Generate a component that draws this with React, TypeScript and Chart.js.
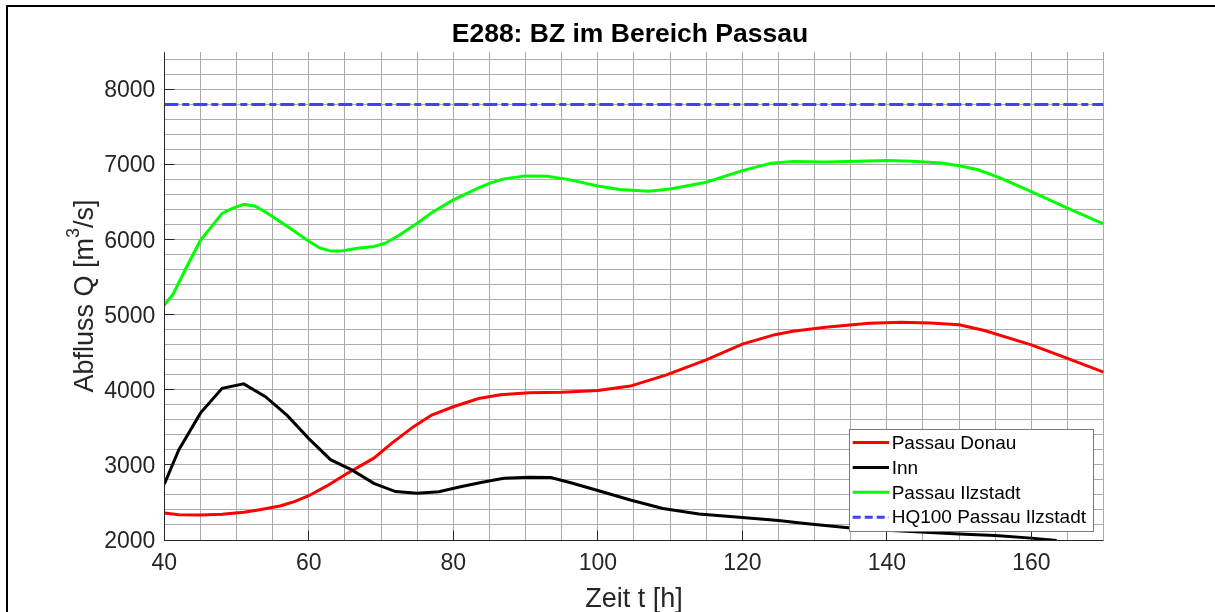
import React, { useEffect, useRef } from 'react';
import { Chart, registerables } from 'chart.js';

Chart.register(...registerables);

// ---------- data ----------
const titleText = 'E288: BZ im Bereich Passau';
const xAxisLabel = 'Zeit t [h]';
const yAxisLabelParts = ['Abfluss Q [m', '3', '/s]'];
const xTickLabels = [40, 60, 80, 100, 120, 140, 160];
const yTickLabels = [2000, 3000, 4000, 5000, 6000, 7000, 8000];
const seriesNames = ['Passau Donau', 'Inn', 'Passau Ilzstadt', 'HQ100 Passau Ilzstadt'];

const donauT = [40, 42, 45, 48, 51, 53, 56, 58, 60, 62.5, 65, 69, 71.5, 74.5, 77, 80, 83.5, 86.5, 90.5, 95, 100, 104.5, 109.5, 115, 120, 124.5, 127, 131.5, 137.5, 142, 146, 150, 153.5, 160, 165, 170];
const donauQ = [2360, 2335, 2333, 2342, 2369, 2400, 2453, 2511, 2590, 2720, 2870, 3090, 3290, 3510, 3665, 3775, 3885, 3935, 3962, 3969, 3990, 4050, 4200, 4400, 4610, 4735, 4780, 4835, 4888, 4900, 4889, 4867, 4790, 4600, 4420, 4236];

const innT = [40, 42, 45, 48, 51, 54, 57, 60, 63, 66, 69, 72, 75, 78, 81, 84, 87, 90.5, 93.5, 96.5, 100, 104.5, 109, 114, 120, 125, 129, 135, 140, 150, 155, 160, 163.5];
const innQ = [2745, 3200, 3690, 4020, 4080, 3910, 3660, 3350, 3070, 2930, 2755, 2645, 2622, 2644, 2710, 2770, 2822, 2836, 2831, 2756, 2660, 2533, 2420, 2345, 2300, 2260, 2215, 2160, 2130, 2080, 2060, 2025, 1995];

const ilzT = [40, 41.2, 43, 45, 46.5, 48, 49.5, 51, 52.5, 54, 57, 60, 61.5, 63, 64.5, 67, 69, 70.5, 72.5, 75, 77, 80, 83.5, 85, 87, 90, 93, 96, 100, 103, 107, 110, 115, 120, 124, 127, 131.5, 136, 140, 143.5, 147.5, 150, 152.5, 155.5, 160, 165, 170];
const ilzQ = [5130, 5270, 5620, 5990, 6170, 6350, 6420, 6470, 6450, 6370, 6180, 5980, 5890, 5850, 5850, 5890, 5910, 5950, 6060, 6220, 6360, 6530, 6690, 6750, 6810, 6850, 6845, 6800, 6715, 6670, 6645, 6675, 6765, 6920, 7020, 7040, 7035, 7045, 7055, 7045, 7020, 6985, 6935, 6830, 6640, 6420, 6210];

const hq100T = [40, 170];
const hq100Q = [7800, 7800];

// ---------- styling ----------
const FONT = '"Liberation Sans", Arial, Helvetica, sans-serif';
const AXIS_COLOR = '#262626';
const GRID_COLOR = '#ababab';
const seriesColors = ['#ff0000', '#000000', '#00ff00', '#4040ff'];
const HQ_DASH = [14, 4, 7, 4];

const toPoints = (t: number[], q: number[]) => t.map((v, i) => ({ x: v, y: q[i] }));

const decorPlugin = {
  id: 'decor',
  beforeDraw(chart: any) {
    const ctx = chart.ctx;
    ctx.save();
    ctx.fillStyle = '#000';
    ctx.fillRect(6, 5, chart.width, 2);
    ctx.fillRect(6, 5, 2, chart.height);
    ctx.restore();
  },
  afterDraw(chart: any) {
    const ctx = chart.ctx;
    const ca = chart.chartArea;
    const xs = chart.scales.x;
    const ys = chart.scales.y;
    const al = (p: number) => Math.round(p - 0.5) + 0.5;
    ctx.save();

    // axes lines + inward ticks
    ctx.strokeStyle = AXIS_COLOR;
    ctx.lineWidth = 1;
    const L = al(ca.left);
    const B = al(ca.bottom);
    ctx.beginPath();
    ctx.moveTo(L, al(ca.top));
    ctx.lineTo(L, B);
    ctx.lineTo(al(ca.right), B);
    xTickLabels.forEach((v) => {
      const px = al(xs.getPixelForValue(v));
      ctx.moveTo(px, B);
      ctx.lineTo(px, B - 10);
    });
    yTickLabels.forEach((v) => {
      const py = al(ys.getPixelForValue(v));
      ctx.moveTo(L, py);
      ctx.lineTo(L + 10, py);
    });
    ctx.stroke();

    const cx = (ca.left + ca.right) / 2;
    const cy = (ca.top + ca.bottom) / 2;

    // title
    ctx.fillStyle = '#000';
    ctx.font = `bold 26.5px ${FONT}`;
    ctx.textAlign = 'center';
    ctx.textBaseline = 'alphabetic';
    ctx.fillText(titleText, cx - 4, 41.5);

    // x label
    ctx.fillStyle = AXIS_COLOR;
    ctx.font = `27px ${FONT}`;
    ctx.fillText(xAxisLabel, cx, 607);

    // y label with superscript
    ctx.save();
    ctx.translate(93, cy);
    ctx.rotate(-Math.PI / 2);
    ctx.textAlign = 'left';
    const bigFont = `27px ${FONT}`;
    const supFont = `18px ${FONT}`;
    ctx.font = bigFont;
    const w1 = ctx.measureText(yAxisLabelParts[0]).width;
    const w3 = ctx.measureText(yAxisLabelParts[2]).width;
    ctx.font = supFont;
    const w2 = ctx.measureText(yAxisLabelParts[1]).width;
    let sx = -(w1 + w2 + w3) / 2;
    ctx.font = bigFont;
    ctx.fillText(yAxisLabelParts[0], sx, 0);
    sx += w1;
    ctx.font = supFont;
    ctx.fillText(yAxisLabelParts[1], sx, -14.5);
    sx += w2;
    ctx.font = bigFont;
    ctx.fillText(yAxisLabelParts[2], sx, 0);
    ctx.restore();

    // legend
    const lw = 244;
    const lh = 102;
    const lx0 = Math.round(ca.right - 10.6 - lw);
    const ly0 = Math.round(ca.bottom - 9 - lh);
    ctx.fillStyle = '#fff';
    ctx.fillRect(lx0, ly0, lw, lh);
    ctx.strokeStyle = '#7a7a7a';
    ctx.lineWidth = 1;
    ctx.strokeRect(lx0 + 0.5, ly0 + 0.5, lw, lh);
    ctx.font = `19px ${FONT}`;
    ctx.textAlign = 'left';
    ctx.textBaseline = 'middle';
    seriesNames.forEach((name, i) => {
      const ry = ly0 + 13.5 + i * 24.9;
      ctx.strokeStyle = seriesColors[i];
      ctx.lineWidth = 3;
      ctx.setLineDash(i === 3 ? [8, 4] : []);
      ctx.beginPath();
      ctx.moveTo(lx0 + 3.7, ry);
      ctx.lineTo(lx0 + 40, ry);
      ctx.stroke();
      ctx.setLineDash([]);
      ctx.fillStyle = '#000';
      ctx.fillText(name, lx0 + 42.7, ry + 1);
    });

    ctx.restore();
  },
};

export default function App() {
  const canvasRef = useRef<HTMLCanvasElement | null>(null);

  useEffect(() => {
    if (!canvasRef.current) return;
    const chart = new Chart(canvasRef.current, {
      type: 'line',
      data: {
        datasets: [
          { label: seriesNames[0], data: toPoints(donauT, donauQ), borderColor: seriesColors[0], borderWidth: 3, pointRadius: 0, tension: 0, order: 4 },
          { label: seriesNames[1], data: toPoints(innT, innQ), borderColor: seriesColors[1], borderWidth: 3, pointRadius: 0, tension: 0, order: 3 },
          { label: seriesNames[2], data: toPoints(ilzT, ilzQ), borderColor: seriesColors[2], borderWidth: 3, pointRadius: 0, tension: 0, order: 2 },
          { label: seriesNames[3], data: toPoints(hq100T, hq100Q), borderColor: seriesColors[3], borderWidth: 3, borderDash: HQ_DASH, pointRadius: 0, tension: 0, order: 1 },
        ],
      },
      options: {
        animation: false,
        responsive: false,
        devicePixelRatio: 1,
        layout: { padding: { left: 0, top: 52, right: 1215 - 1103.6, bottom: 0 } },
        plugins: {
          legend: { display: false },
          title: { display: false },
          tooltip: { enabled: false },
        },
        scales: {
          x: {
            type: 'linear',
            min: 40,
            max: 170,
            afterFit: (s: any) => { s.height = 72; },
            grid: { color: GRID_COLOR, lineWidth: 1, drawTicks: false },
            border: { display: false },
            ticks: {
              stepSize: 5,
              autoSkip: false,
              maxRotation: 0,
              padding: 10,
              color: AXIS_COLOR,
              font: { family: FONT, size: 23 },
              callback: (v: any) => (xTickLabels.includes(Number(v)) ? String(v) : ''),
            },
          },
          y: {
            type: 'linear',
            min: 2000,
            max: 8500,
            afterFit: (s: any) => { s.width = 164.3; },
            grid: { color: GRID_COLOR, lineWidth: 1, drawTicks: false },
            border: { display: false },
            ticks: {
              stepSize: 200,
              includeBounds: false,
              autoSkip: false,
              padding: 9,
              labelOffset: 1.5,
              color: AXIS_COLOR,
              font: { family: FONT, size: 23 },
              callback: (v: any) => (yTickLabels.includes(Number(v)) ? String(v) : ''),
            },
          },
        },
      },
      plugins: [decorPlugin],
    } as any);
    return () => chart.destroy();
  }, []);

  return (
    <div style={{ position: 'absolute', left: 0, top: 0, width: 1215, height: 612, background: '#fff' }}>
      <canvas ref={canvasRef} width={1215} height={612} style={{ display: 'block' }} />
    </div>
  );
}
